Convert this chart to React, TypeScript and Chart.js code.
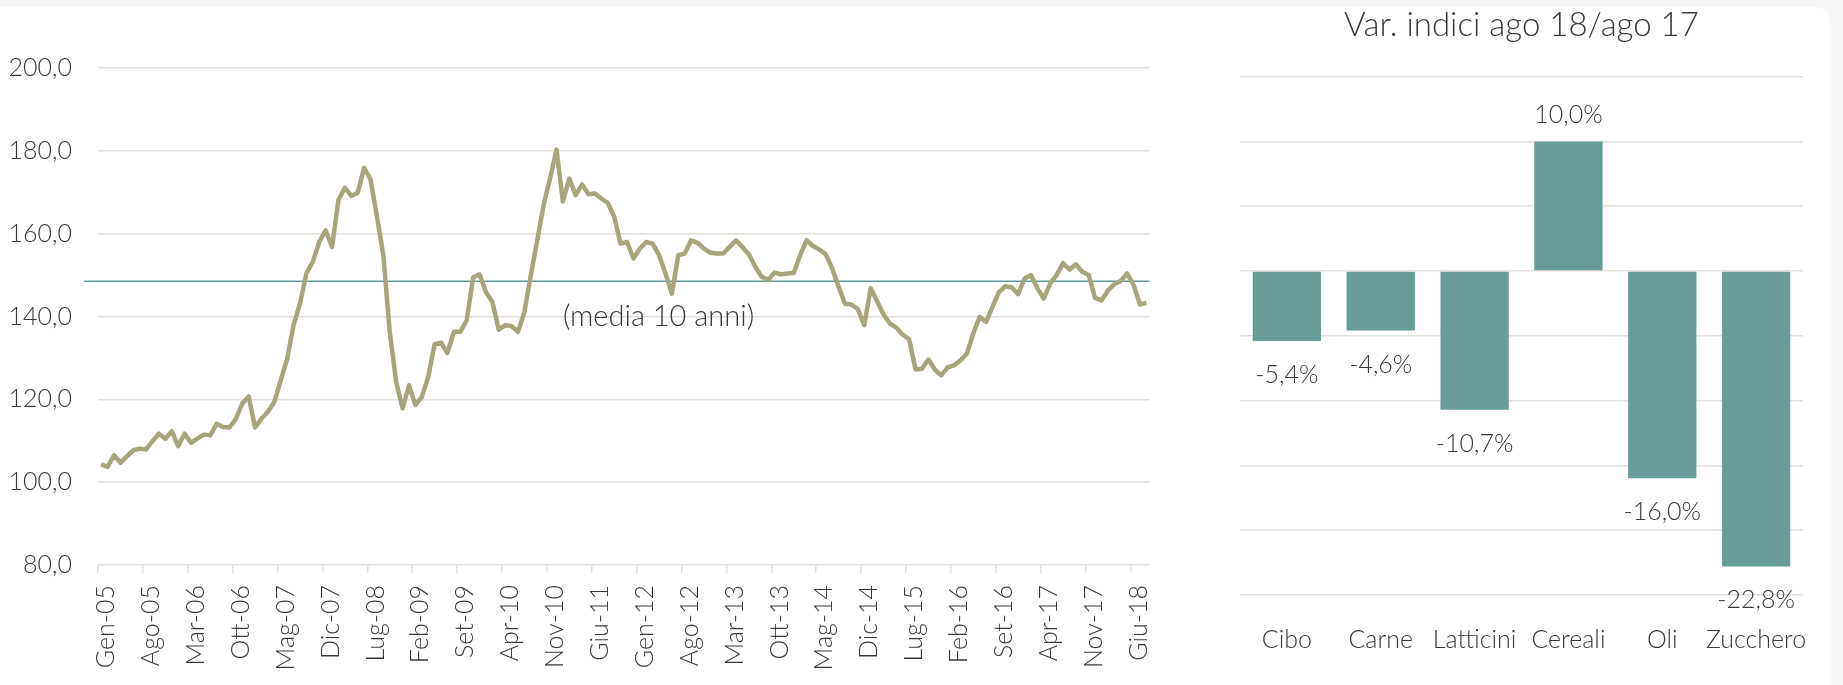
import React, { useEffect, useRef } from "react";
import { Chart, registerables } from "chart.js";

Chart.register(...registerables);

// ---------- DATA ----------
const MONTH_NAMES = ["Gen", "Feb", "Mar", "Apr", "Mag", "Giu", "Lug", "Ago", "Set", "Ott", "Nov", "Dic"];
const FIRST_YEAR = 2005;
const LABEL_EVERY = 7;

// Monthly index, Gen-05 .. Ago-18
const INDEX_VALUES = [
  104.3, 103.7, 106.5, 104.7, 106.2, 107.7, 108.1, 107.9, 109.9, 111.7, 110.5, 112.3,
  108.7, 111.7, 109.5, 110.5, 111.5, 111.3, 114.1, 113.3, 113.2, 115.3, 119.0, 120.7,
  113.2, 115.3, 117.0, 119.4, 124.6, 129.8, 137.9, 143.1, 150.4, 153.2, 158.0, 160.8,
  156.8, 168.2, 171.1, 169.1, 169.9, 175.9, 173.1, 164.1, 154.8, 136.3, 124.2, 117.8,
  123.4, 118.6, 120.6, 125.4, 133.3, 133.7, 131.2, 136.3, 136.3, 139.1, 149.4, 150.2,
  145.9, 143.5, 136.8, 137.9, 137.7, 136.3, 141.1, 150.0, 158.4, 166.9, 173.3, 180.3,
  167.8, 173.3, 169.3, 171.9, 169.5, 169.7, 168.5, 167.4, 164.1, 157.6, 158.0, 154.0,
  156.4, 158.0, 157.6, 154.8, 150.4, 145.5, 154.8, 155.2, 158.4, 157.8, 156.4, 155.4,
  155.2, 155.2, 156.8, 158.4, 156.8, 155.0, 152.0, 149.6, 148.8, 150.6, 150.2, 150.4,
  150.5, 154.8, 158.4, 157.0, 156.2, 155.0, 151.6, 147.2, 143.1, 142.9, 141.8, 137.9,
  146.8, 143.7, 140.5, 138.3, 137.3, 135.6, 134.5, 127.2, 127.4, 129.6, 127.2, 125.8,
  127.7, 128.2, 129.4, 131.0, 135.9, 139.9, 138.7, 142.3, 145.9, 147.3, 147.0, 145.4,
  149.2, 150.0, 146.8, 144.3, 148.0, 150.0, 152.9, 151.3, 152.6, 150.8, 150.0, 144.5,
  143.9, 146.3, 147.8, 148.6, 150.4, 147.6, 142.9, 143.3,
];

const MONTH_LABELS = INDEX_VALUES.map((_, i) => {
  const m = MONTH_NAMES[i % 12];
  const y = String((FIRST_YEAR + Math.floor(i / 12)) % 100).padStart(2, "0");
  return `${m}-${y}`;
});

const AVERAGE_10Y = 148.5;
const AVERAGE_LABEL = "(media 10 anni)";
const AVERAGE_LABEL_INDEX = 72;
const AVERAGE_LABEL_VALUE = 140;

const Y_MIN = 80;
const Y_MAX = 200;
const Y_STEP = 20;

const BAR_TITLE = "Var. indici ago 18/ago 17";
const BAR_CATEGORIES = ["Cibo", "Carne", "Latticini", "Cereali", "Oli", "Zucchero"];
const BAR_VALUES = [-5.4, -4.6, -10.7, 10.0, -16.0, -22.8];
const BAR_Y_MIN = -25;
const BAR_Y_MAX = 15;
const BAR_Y_STEP = 5;

// ---------- STYLE ----------
const FONT = "Lato, 'Open Sans', 'DejaVu Sans', sans-serif";
const TEXT_COLOR = "#383838";
const GRID_COLOR = "#e3e0d9";
const LINE_COLOR = "#a8a47c";
const AVG_COLOR = "#5f9997";
const BAR_COLOR = "#699c99";

const fmtIt = (v: number, d: number) => v.toFixed(d).replace(".", ",");

function LeftChart() {
  const ref = useRef<HTMLCanvasElement | null>(null);
  useEffect(() => {
    if (!ref.current) return;
    const avgPlugin = {
      id: "avgLine",
      beforeDatasetsDraw(chart: any) {
        const { ctx, chartArea, scales } = chart;
        const y = scales.y.getPixelForValue(AVERAGE_10Y);
        ctx.save();
        ctx.strokeStyle = AVG_COLOR;
        ctx.lineWidth = 1.5;
        ctx.beginPath();
        ctx.moveTo(chartArea.left - 14, y);
        ctx.lineTo(chartArea.right, y);
        ctx.stroke();
        ctx.restore();
      },
      afterDraw(chart: any) {
        const { ctx, scales } = chart;
        const x = scales.x.getPixelForValue(AVERAGE_LABEL_INDEX);
        const y = scales.y.getPixelForValue(AVERAGE_LABEL_VALUE);
        ctx.save();
        ctx.font = `300 29px ${FONT}`;
        ctx.fillStyle = TEXT_COLOR;
        ctx.textAlign = "left";
        ctx.textBaseline = "alphabetic";
        ctx.fillText(AVERAGE_LABEL, x, y + 9);
        ctx.restore();
      },
    };
    const chart = new Chart(ref.current, {
      type: "line",
      data: {
        labels: MONTH_LABELS,
        datasets: [
          {
            data: INDEX_VALUES,
            borderColor: LINE_COLOR,
            borderWidth: 4.5,
            pointRadius: 0,
            tension: 0,
            borderJoinStyle: "round",
            fill: false,
          },
        ],
      },
      options: {
        animation: false,
        responsive: false,
        maintainAspectRatio: false,
        layout: { padding: { left: 0, right: 50.4, top: 68, bottom: 0 } },
        plugins: { legend: { display: false }, tooltip: { enabled: false }, title: { display: false } },
        scales: {
          x: {
            type: "category",
            offset: true,
            grid: {
              offset: true,
              drawOnChartArea: false,
              drawTicks: true,
              tickLength: 8,
              lineWidth: 1.5,
              color: (c: any) => (c.index % LABEL_EVERY === 0 ? GRID_COLOR : "rgba(0,0,0,0)"),
              tickColor: (c: any) => (c.index % LABEL_EVERY === 0 ? GRID_COLOR : "rgba(0,0,0,0)"),
            },
            border: { display: false },
            ticks: {
              autoSkip: false,
              maxRotation: 90,
              minRotation: 90,
              padding: 12,
              labelOffset: 5,
              color: TEXT_COLOR,
              font: { family: FONT, size: 25, weight: 300 },
              callback: (_v: any, i: number) => (i % LABEL_EVERY === 0 ? MONTH_LABELS[i] : ""),
            },
            afterFit: (s: any) => {
              s.height = 120;
            },
          },
          y: {
            min: Y_MIN,
            max: Y_MAX,
            grid: { color: GRID_COLOR, lineWidth: 1.5, drawTicks: false },
            border: { display: false },
            ticks: {
              stepSize: Y_STEP,
              padding: 26,
              color: TEXT_COLOR,
              font: { family: FONT, size: 25, weight: 300 },
              callback: (v: any) => fmtIt(Number(v), 1),
            },
            afterFit: (s: any) => {
              s.width = 98;
            },
          },
        },
      },
      plugins: [avgPlugin],
    } as any);
    return () => chart.destroy();
  }, []);
  return (
    <canvas
      ref={ref}
      width={1200}
      height={685}
      style={{ position: "absolute", left: 0, top: 0, width: 1200, height: 685 }}
    />
  );
}

function RightChart() {
  const ref = useRef<HTMLCanvasElement | null>(null);
  useEffect(() => {
    if (!ref.current) return;
    const labelPlugin = {
      id: "barLabels",
      afterDatasetsDraw(chart: any) {
        const { ctx } = chart;
        const meta = chart.getDatasetMeta(0);
        ctx.save();
        ctx.font = `300 25px ${FONT}`;
        ctx.fillStyle = TEXT_COLOR;
        ctx.textAlign = "center";
        ctx.textBaseline = "alphabetic";
        meta.data.forEach((bar: any, i: number) => {
          const v = BAR_VALUES[i];
          const txt = `${fmtIt(v, 1)}%`;
          const y = v >= 0 ? bar.y - 18 : bar.y + 42;
          ctx.fillText(txt, bar.x, y);
        });
        ctx.restore();
      },
    };
    const chart = new Chart(ref.current, {
      type: "bar",
      data: {
        labels: BAR_CATEGORIES,
        datasets: [
          {
            data: BAR_VALUES,
            backgroundColor: BAR_COLOR,
            categoryPercentage: 1,
            barPercentage: 0.728,
          },
        ],
      },
      options: {
        animation: false,
        responsive: false,
        maintainAspectRatio: false,
        layout: { padding: { left: 40, right: 40, top: 0, bottom: 0 } },
        plugins: {
          legend: { display: false },
          tooltip: { enabled: false },
          title: {
            display: true,
            text: BAR_TITLE,
            color: TEXT_COLOR,
            font: { family: FONT, size: 33, weight: 300, lineHeight: 1.2 },
            padding: { top: 6, bottom: 31 },
          },
        },
        scales: {
          x: {
            grid: { display: false },
            border: { display: false },
            ticks: {
              padding: 22,
              color: TEXT_COLOR,
              font: { family: FONT, size: 25, weight: 300 },
              maxRotation: 0,
              autoSkip: false,
            },
            afterFit: (s: any) => {
              s.height = 90;
            },
          },
          y: {
            min: BAR_Y_MIN,
            max: BAR_Y_MAX,
            grid: { color: GRID_COLOR, lineWidth: 1.5, drawTicks: false },
            border: { display: false },
            ticks: { display: false, stepSize: BAR_Y_STEP },
            afterFit: (s: any) => {
              s.width = 0;
            },
          },
        },
      },
      plugins: [labelPlugin],
    } as any);
    return () => chart.destroy();
  }, []);
  return (
    <canvas
      ref={ref}
      width={643}
      height={685}
      style={{ position: "absolute", left: 1200, top: 0, width: 643, height: 685 }}
    />
  );
}

export default function App() {
  return (
    <div
      style={{
        position: "fixed",
        left: 0,
        top: 0,
        width: 1843,
        height: 685,
        background: "#f7f7f5",
        overflow: "hidden",
      }}
    >
      <div
        style={{
          position: "absolute",
          left: 0,
          top: 7,
          width: 1830,
          height: 700,
          background: "#ffffff",
          borderTopRightRadius: 14,
        }}
      />
      <LeftChart />
      <RightChart />
    </div>
  );
}
